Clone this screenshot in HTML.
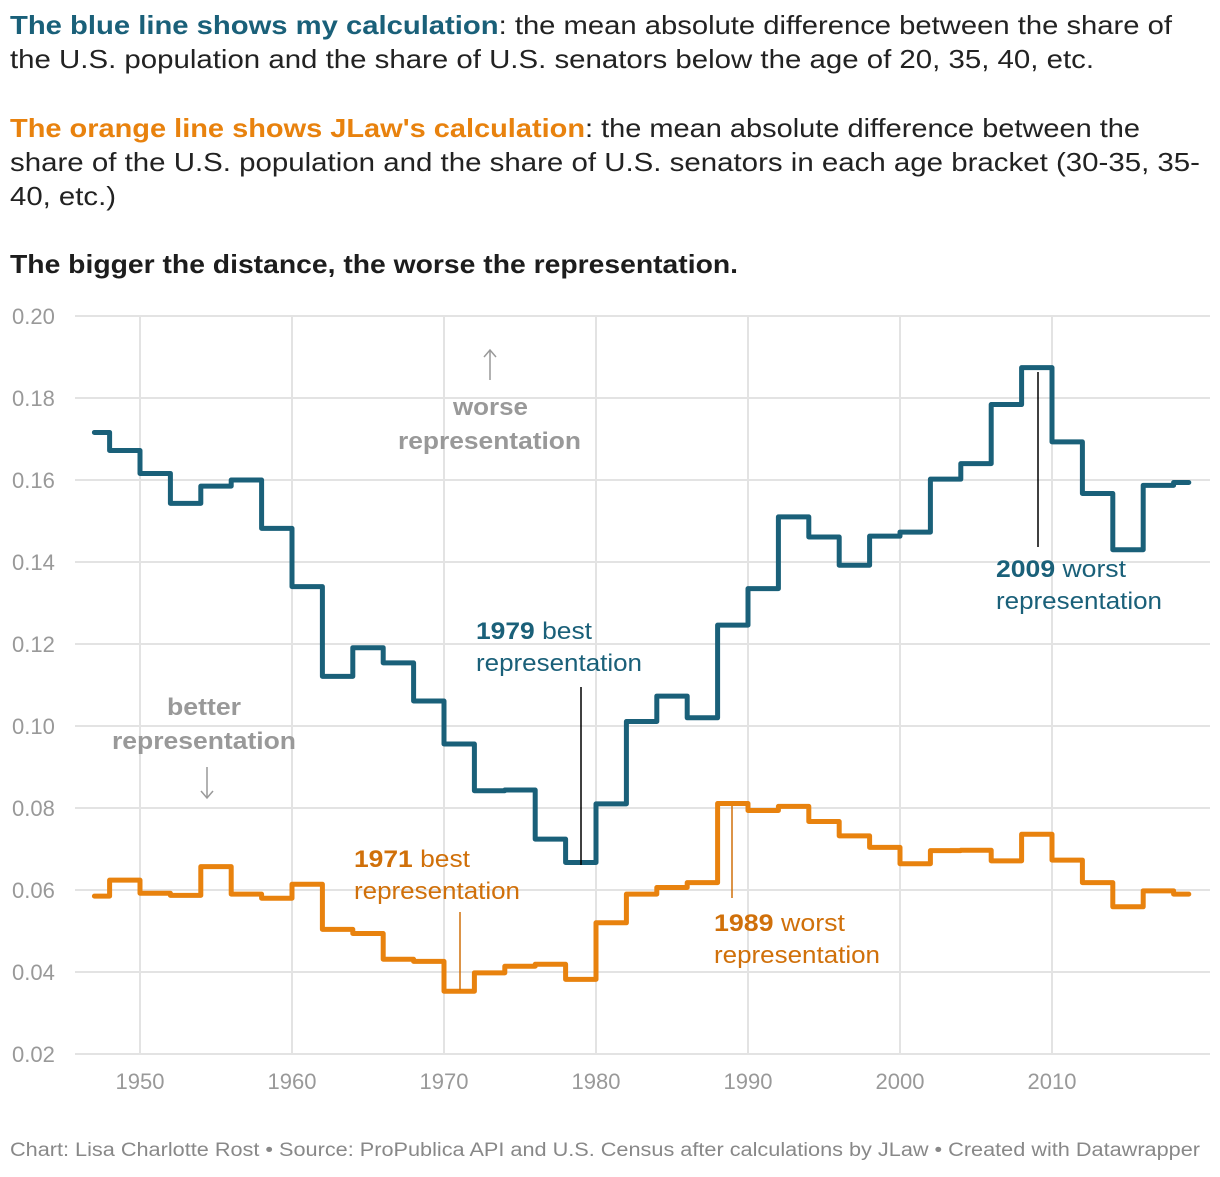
<!DOCTYPE html>
<html><head><meta charset="utf-8">
<style>
body{margin:0;background:#fff;font-family:"Liberation Sans",sans-serif;}
svg text{font-family:"Liberation Sans",sans-serif;}
</style></head>
<body>
<svg id="chart" width="1220" height="1172" viewBox="0 0 1220 1172" xmlns="http://www.w3.org/2000/svg">
<g font-size="26" fill="#222">
<text x="10" y="34" textLength="1162" lengthAdjust="spacingAndGlyphs"><tspan font-weight="bold" fill="#1a6079">The blue line shows my calculation</tspan>: the mean absolute difference between the share of</text>
<text x="10" y="68" textLength="1084" lengthAdjust="spacingAndGlyphs">the U.S. population and the share of U.S. senators below the age of 20, 35, 40, etc.</text>
<text x="10" y="137" textLength="1130" lengthAdjust="spacingAndGlyphs"><tspan font-weight="bold" fill="#e8820e">The orange line shows JLaw's calculation</tspan>: the mean absolute difference between the</text>
<text x="10" y="171" textLength="1190" lengthAdjust="spacingAndGlyphs">share of the U.S. population and the share of U.S. senators in each age bracket (30-35, 35-</text>
<text x="10" y="205" textLength="106" lengthAdjust="spacingAndGlyphs">40, etc.)</text>
<text x="10" y="273" font-weight="bold" fill="#1d1d1d" textLength="728" lengthAdjust="spacingAndGlyphs">The bigger the distance, the worse the representation.</text>
</g>
<g id="grid"></g>
<g id="axes"></g>
<g id="series"></g>
<g font-size="24">
<text x="453" y="415" font-weight="bold" fill="#999" textLength="75" lengthAdjust="spacingAndGlyphs">worse</text>
<text x="398" y="449" font-weight="bold" fill="#999" textLength="183" lengthAdjust="spacingAndGlyphs">representation</text>
<line x1="490" y1="350" x2="490" y2="380" stroke="#999" stroke-width="1.5"/>
<path d="M484,357 L490,350 L496,357" fill="none" stroke="#999" stroke-width="1.5"/>
<text x="167" y="715" font-weight="bold" fill="#999" textLength="74" lengthAdjust="spacingAndGlyphs">better</text>
<text x="112" y="749" font-weight="bold" fill="#999" textLength="184" lengthAdjust="spacingAndGlyphs">representation</text>
<line x1="207" y1="767" x2="207" y2="798" stroke="#999" stroke-width="1.5"/>
<path d="M201,791 L207,798 L213,791" fill="none" stroke="#999" stroke-width="1.5"/>
<text x="476" y="639" fill="#1a6079" textLength="116" lengthAdjust="spacingAndGlyphs"><tspan font-weight="bold">1979</tspan> best</text>
<text x="476" y="671" fill="#1a6079" textLength="166" lengthAdjust="spacingAndGlyphs">representation</text>
<line x1="581" y1="687" x2="581" y2="865" stroke="#000" stroke-width="1.5"/>
<text x="996" y="577" fill="#1a6079" textLength="130" lengthAdjust="spacingAndGlyphs"><tspan font-weight="bold">2009</tspan> worst</text>
<text x="996" y="609" fill="#1a6079" textLength="166" lengthAdjust="spacingAndGlyphs">representation</text>
<line x1="1038" y1="372" x2="1038" y2="547" stroke="#000" stroke-width="1.5"/>
<text x="354" y="867" fill="#d0700a" textLength="116" lengthAdjust="spacingAndGlyphs"><tspan font-weight="bold">1971</tspan> best</text>
<text x="354" y="899" fill="#d0700a" textLength="166" lengthAdjust="spacingAndGlyphs">representation</text>
<line x1="460" y1="912" x2="460" y2="990" stroke="#d0700a" stroke-width="1.5"/>
<text x="714" y="931" fill="#d0700a" textLength="131" lengthAdjust="spacingAndGlyphs"><tspan font-weight="bold">1989</tspan> worst</text>
<text x="714" y="963" fill="#d0700a" textLength="166" lengthAdjust="spacingAndGlyphs">representation</text>
<line x1="732" y1="806" x2="732" y2="898" stroke="#d0700a" stroke-width="1.5"/>
</g>
<text x="10" y="1156" font-size="19" fill="#888" textLength="1190" lengthAdjust="spacingAndGlyphs">Chart: Lisa Charlotte Rost • Source: ProPublica API and U.S. Census after calculations by JLaw • Created with Datawrapper</text>
</svg>
<script>
const years=[1947,1948,1950,1952,1954,1956,1958,1960,1962,1964,1966,1968,1970,1972,1974,1976,1978,1980,1982,1984,1986,1988,1990,1992,1994,1996,1998,2000,2002,2004,2006,2008,2010,2012,2014,2016,2018];
const endYear=2019;
const blueValues=[0.1716,0.1672,0.1616,0.1543,0.1585,0.160,0.1482,0.134,0.1121,0.1191,0.1154,0.1061,0.0956,0.0842,0.0844,0.0724,0.0667,0.081,0.1011,0.1073,0.102,0.1246,0.1335,0.151,0.1461,0.1392,0.1463,0.1473,0.1602,0.164,0.1784,0.1874,0.1693,0.1567,0.143,0.1587,0.1594];
const orangeValues=[0.0585,0.0624,0.0592,0.0587,0.0657,0.059,0.058,0.0614,0.0504,0.0494,0.0431,0.0426,0.0353,0.0398,0.0414,0.0419,0.0382,0.052,0.059,0.0606,0.0618,0.0811,0.0794,0.0804,0.0767,0.0732,0.0704,0.0664,0.0696,0.0697,0.0671,0.0736,0.0673,0.0618,0.0559,0.0598,0.059];
const yTicks=[0.02,0.04,0.06,0.08,0.10,0.12,0.14,0.16,0.18,0.20];
const xTicks=[1950,1960,1970,1980,1990,2000,2010];
const NS="http://www.w3.org/2000/svg";
const xs=y=>140+(y-1950)*15.2;
const ys=v=>316+(0.20-v)*4100;
const grid=document.getElementById('grid'),axes=document.getElementById('axes'),series=document.getElementById('series');
function mk(tag,attrs,parent){const e=document.createElementNS(NS,tag);for(const k in attrs)e.setAttribute(k,attrs[k]);parent.appendChild(e);return e;}
yTicks.forEach(t=>{
  const l=mk('line',{x1:75,x2:1210,y1:ys(t),y2:ys(t),stroke:'#e3e3e3','stroke-width':2},grid);
  
  
  const tx=mk('text',{x:12,y:ys(t)+8,'font-size':22,fill:'#999'},axes);
  tx.textContent=t.toFixed(2);
  
  
});
xTicks.forEach(t=>{
  const l=mk('line',{x1:xs(t),x2:xs(t),y1:316,y2:1054,stroke:'#e3e3e3','stroke-width':2},grid);
  
  
  const tx=mk('text',{x:xs(t),y:1089,'font-size':22,fill:'#999','text-anchor':'middle'},axes);
  tx.textContent=t;
  
  
});
function stepPath(vals){
  let d='';
  for(let i=0;i<years.length;i++){
    const x0=xs(years[i]),x1=xs(i+1<years.length?years[i+1]:endYear),y=ys(vals[i]);
    d+=(i===0?'M':'L')+x0+','+y+'L'+x1+','+y;
  }
  return d;
}
const b=mk('path',{d:stepPath(blueValues),fill:'none',stroke:'#1a6079','stroke-width':5,'stroke-linejoin':'round','stroke-linecap':'round'},series);


const o=mk('path',{d:stepPath(orangeValues),fill:'none',stroke:'#e8820e','stroke-width':5,'stroke-linejoin':'round','stroke-linecap':'round'},series);


</script>
</body></html>
